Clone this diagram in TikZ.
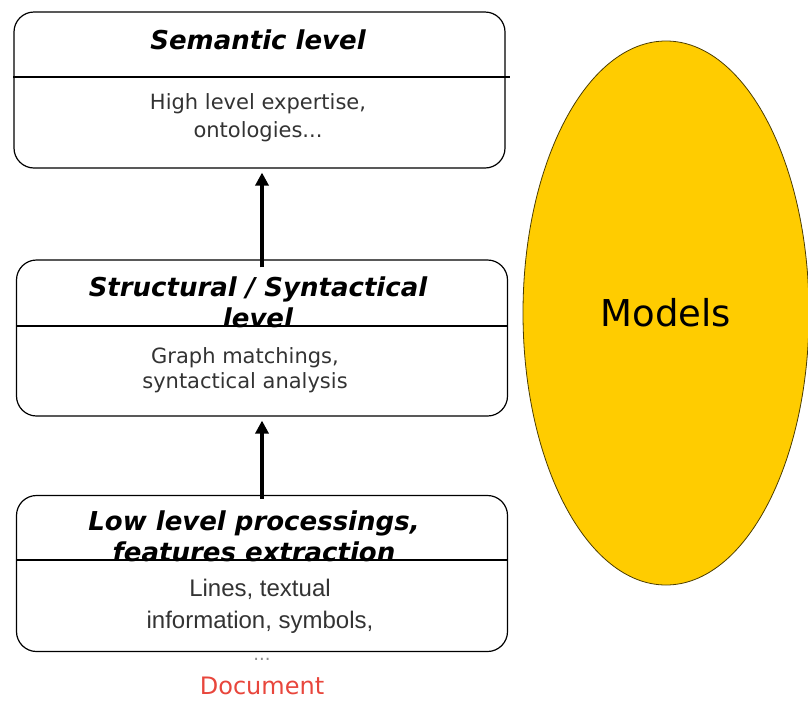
\documentclass[tikz,border=0pt]{standalone}
\usepackage{fontspec}
\setmainfont{DejaVu Sans}
\newfontfamily\arialfont{Liberation Sans}
\usetikzlibrary{arrows.meta,shapes.geometric}
\definecolor{modelgold}{HTML}{FFCC00}
\definecolor{docred}{HTML}{E8463C}

\begin{document}
\begin{tikzpicture}[x=1pt,y=-1pt,
  levelbox/.style={draw,rounded corners=20pt,minimum width=491pt,minimum height=156pt,line width=1.2pt},
  titletext/.style={font=\fontsize{26}{31}\selectfont\bfseries\itshape,align=center},
  bodytext/.style={font=\fontsize{21}{28}\selectfont,align=center,text=black!80},
  uparrow/.style={line width=3.5pt,-{Triangle[width=13pt,length=13pt]}}]
  \useasboundingbox (0,0) rectangle (808,702);

  % the three levels
  \node[levelbox] (semantic) at (259.5,90) {};
  \node[levelbox] (syntax) at (262,338) {};
  \node[levelbox] (lowlevel) at (262,573.5) {};
  \draw[line width=1.2pt] (semantic.west |- 0,77) -- (510,77);
  \draw[line width=1.2pt] (syntax.west |- 0,326) -- (syntax.east |- 0,326);
  \draw[line width=1.2pt] (lowlevel.west |- 0,560) -- (lowlevel.east |- 0,560);

  \node[titletext] (semtitle) at (258,40) {Semantic level};
  \node[bodytext] (sembody) at (258,118) {High level expertise,\\ ontologies...};
  \node[titletext] (syntitle) at (258,302) {Structural / Syntactical\\ level};
  \node[bodytext,font=\fontsize{21}{25}\selectfont] (synbody) at (245,370) {Graph matchings,\\ syntactical analysis};
  \node[titletext] (lowtitle) at (254,536) {Low level processings,\\ features extraction};
  \node[bodytext,font=\arialfont\fontsize{24}{32}\selectfont] (lowbody) at (260,606) {Lines, textual\\ information, symbols,};
  \node[text=black!45,font=\fontsize{18}{18}\selectfont] (dots) at (262,659) {...};
  \node[text=docred,font=\fontsize{24}{24}\selectfont] (doc) at (262,686) {Document};

  \draw[uparrow,shorten <=-8pt,shorten >=4pt] (syntax.north) -- (syntax.north |- semantic.south);
  \draw[uparrow,shorten <=-4pt,shorten >=4pt] (lowlevel.north) -- (syntax.south);

  \node[ellipse,draw=black!70!modelgold,fill=modelgold,line width=0.8pt,minimum width=286pt,minimum height=544pt,
    font=\fontsize{37}{37}\selectfont] (models) at (666,313) {Models};
\end{tikzpicture}
\end{document}
